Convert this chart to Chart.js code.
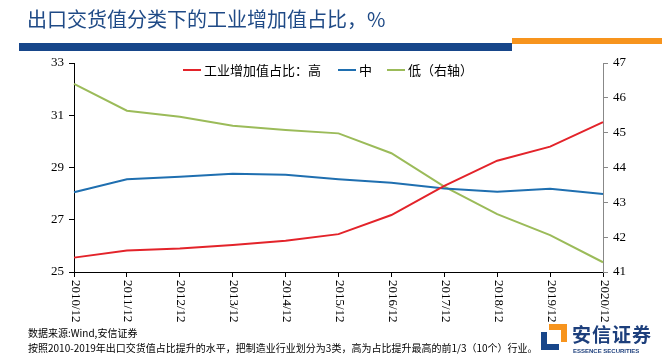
<!DOCTYPE html>
<html><head><meta charset="utf-8">
<script src="https://cdn.jsdelivr.net/npm/chart.js@4.4.1/dist/chart.umd.min.js"></script>
<style>
html,body{margin:0;padding:0;background:#fff;}
#wrap{position:relative;width:662px;height:361px;overflow:hidden;font-family:"Noto Sans CJK SC","Noto Sans",sans-serif;}
#c{position:absolute;left:0;top:0;}
.abs{position:absolute;}
#title{left:27px;top:5px;font-size:20px;color:#1f4a86;white-space:nowrap;line-height:28px;}
#barBlue{left:19px;top:43px;width:493px;height:8px;background:#17468a;}
#barOrange{left:512px;top:38px;width:150px;height:6px;background:#f7941d;}
#legend{left:183px;top:61px;font-size:13px;color:#000;white-space:nowrap;line-height:18px;}
#legend span.item{position:absolute;top:0;white-space:nowrap;}
#legend i{display:inline-block;width:18px;height:2px;vertical-align:middle;margin-right:3px;position:relative;top:-1px;}
#foot1{left:28px;top:326px;font-size:10px;color:#000;white-space:nowrap;line-height:14px;}
#foot2{left:28px;top:341px;font-size:10px;color:#000;white-space:nowrap;line-height:14px;}
#logoTxt{left:572px;top:322px;font-size:19px;font-weight:bold;color:#1d3f7c;white-space:nowrap;line-height:24px;letter-spacing:1px;}
#logoSub{left:573px;top:347px;font-size:6px;font-weight:bold;color:#1d3f7c;white-space:nowrap;line-height:8px;font-family:"Liberation Sans",Arial,sans-serif;}
</style></head>
<body>
<div id="wrap">
<canvas id="c" width="662" height="361"></canvas>
<div id="title" class="abs">出口交货值分类下的工业增加值占比，%</div>
<div id="barBlue" class="abs"></div>
<div id="barOrange" class="abs"></div>
<div id="legend" class="abs"></div>
<div id="foot1" class="abs">数据来源:Wind,安信证券</div>
<div id="foot2" class="abs">按照2010-2019年出口交货值占比提升的水平，把制造业行业划分为3类，高为占比提升最高的前1/3（10个）行业。</div>
<div class="abs" style="left:541px;top:324px;width:26px;height:26px;">
  <div class="abs" style="left:0;top:8px;width:6px;height:18px;background:#17468a;"></div>
  <div class="abs" style="left:0;top:20px;width:18px;height:6px;background:#17468a;"></div>
  <div class="abs" style="left:8px;top:0;width:18px;height:6px;background:#f7941d;"></div>
  <div class="abs" style="left:20px;top:0;width:6px;height:18px;background:#f7941d;"></div>
</div>
<div id="logoTxt" class="abs">安信证券</div>
<div id="logoSub" class="abs">ESSENCE SECURITIES</div>
</div>
<script>
const categories = ["2010/12","2011/12","2012/12","2013/12","2014/12","2015/12","2016/12","2017/12","2018/12","2019/12","2020/12"];
const seriesNames = ["工业增加值占比：高","中","低（右轴）"];
const highValues = [25.55,25.82,25.9,26.03,26.2,26.45,27.18,28.3,29.26,29.8,30.74];
const midValues  = [28.05,28.55,28.65,28.76,28.72,28.55,28.42,28.2,28.07,28.19,27.99];
const lowValues  = [46.4,45.63,45.46,45.2,45.08,44.98,44.41,43.45,42.66,42.06,41.28];
const leftTicks = [25,27,29,31,33];
const rightTicks = [41,42,43,44,45,46,47];
const colors = ["#e3232a","#1f6fb0","#9bbb59"];

// HTML legend
const legendPos = [0, 155, 204];
const leg = document.getElementById('legend');
seriesNames.forEach((n,i)=>{
  const s = document.createElement('span');
  s.className='item'; s.style.left = legendPos[i]+'px';
  s.innerHTML = '<i style="background:'+colors[i]+'"></i>'+n;
  leg.appendChild(s);
});

const serif = "'Liberation Serif','Times New Roman',serif";
const xLabelPlugin = {
  id:'xLabels',
  afterDraw(chart){
    const sx = chart.scales.x; const ctx = chart.ctx;
    ctx.save();
    ctx.font = "13px " + serif;
    ctx.fillStyle = "#000";
    ctx.textAlign = 'left'; ctx.textBaseline = 'middle';
    categories.forEach((lab,i)=>{
      const x = sx.getPixelForTick(i);
      ctx.save();
      ctx.translate(x+1, sx.top + 8);
      ctx.rotate(Math.PI/2);
      ctx.fillText(lab, 0, 0);
      ctx.restore();
    });
    ctx.restore();
  }
};

new Chart(document.getElementById('c'), {
  type:'line',
  data:{
    labels:categories,
    datasets:[
      {label:seriesNames[0],data:highValues,borderColor:colors[0],backgroundColor:colors[0],yAxisID:'y'},
      {label:seriesNames[1],data:midValues,borderColor:colors[1],backgroundColor:colors[1],yAxisID:'y'},
      {label:seriesNames[2],data:lowValues,borderColor:colors[2],backgroundColor:colors[2],yAxisID:'y1'}
    ]
  },
  options:{
    responsive:false, animation:false,
    devicePixelRatio:1,
    layout:{padding:{top:63,left:0,right:0,bottom:0}},
    elements:{line:{borderWidth:2,tension:0},point:{radius:0,hoverRadius:0}},
    plugins:{legend:{display:false},tooltip:{enabled:false}},
    scales:{
      x:{
        type:'category', offset:false,
        border:{display:true,color:'#000',width:1},
        grid:{display:true,drawOnChartArea:false,drawTicks:true,tickLength:5,color:'#000'},
        ticks:{display:false},
        afterFit(s){ s.height = 89; }
      },
      y:{
        position:'left', min:25, max:33,
        afterBuildTicks(s){ s.ticks = leftTicks.map(v=>({value:v})); },
        border:{display:true,color:'#000',width:1},
        grid:{display:true,drawOnChartArea:false,drawTicks:true,tickLength:5,color:'#000'},
        ticks:{font:{family:serif,size:13},color:'#000',padding:5},
        afterFit(s){ s.width = 74; }
      },
      y1:{
        position:'right', min:41, max:47,
        afterBuildTicks(s){ s.ticks = rightTicks.map(v=>({value:v})); },
        border:{display:true,color:'#888',width:1},
        grid:{display:true,drawOnChartArea:false,drawTicks:true,tickLength:5,color:'#888'},
        ticks:{font:{family:serif,size:13},color:'#000',padding:5},
        afterFit(s){ s.width = 59; }
      }
    }
  },
  plugins:[xLabelPlugin]
});
</script>
</body></html>
